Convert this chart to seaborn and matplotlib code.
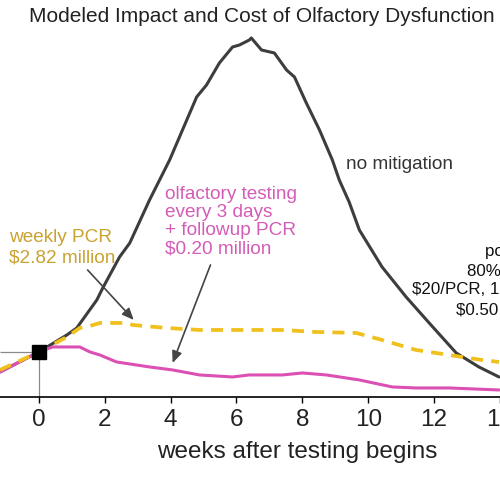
"""
Modeled impact and cost of olfactory dysfunction testing: cases over time
for three strategies (no mitigation, weekly PCR, olfactory testing).
"""
import matplotlib
matplotlib.use("Agg")
import matplotlib.pyplot as plt
import pandas as pd
import seaborn as sns

# Values (arbitrary case units, weeks after testing begins)
nomit_weeks = [-1.18, 0, 0.85, 1.15, 1.76, 1.94, 2.45, 2.76, 3.36, 3.97, 4.36, 4.79, 5.09,
               5.48, 5.88, 6.09, 6.39, 6.45, 6.76, 7.15, 7.52, 7.76, 8.12, 8.52, 8.91, 9.12,
               9.42, 9.73, 10.42, 11.15, 11.85, 12.67, 13.36, 13.97]
nomit_cases = [25, 45, 62, 69, 97, 109, 140, 154, 197, 237, 267, 300, 312,
               334, 350, 352, 357, 359, 347, 344, 327, 320, 294, 267, 237, 217,
               195, 167, 130, 100, 74, 44, 30, 20]

pcr_weeks = [-1.18, 0, 0.85, 1.24, 1.45, 1.85, 2.67, 2.85, 3.88, 4.88, 5.88, 6.39, 7.39,
             8.42, 9.64, 10.42, 11.45, 12.45, 13.45, 13.97]
pcr_cases = [27, 45, 60, 69, 70, 74, 74, 72, 69, 67, 67, 67, 67,
             65, 64, 57, 47, 42, 37, 35]

olf_weeks = [-1.18, 0, 0.42, 1.24, 1.55, 1.85, 2.36, 3.36, 4.06, 4.88, 5.88, 6.39, 7.39,
             8.0, 8.73, 9.73, 10.73, 11.45, 12.45, 13.97]
olf_cases = [25, 45, 50, 50, 45, 42, 35, 30, 27, 22, 20, 22, 22,
             24, 22, 17, 10, 9, 9, 7]

start_week = 0
start_cases = 45

week_ticks = [0, 2, 4, 6, 8, 10, 12, 14]

series_names = ["no mitigation", "olfactory testing", "weekly PCR"]

# Long-form table for seaborn
df = pd.concat([
    pd.DataFrame({"week": nomit_weeks, "cases": nomit_cases, "strategy": series_names[0]}),
    pd.DataFrame({"week": olf_weeks, "cases": olf_cases, "strategy": series_names[1]}),
    pd.DataFrame({"week": pcr_weeks, "cases": pcr_cases, "strategy": series_names[2]}),
], ignore_index=True)

palette = {
    "no mitigation": "#3d3d3d",
    "olfactory testing": "#dc50b4",
    "weekly PCR": "#f0c01c",
}
dashes = {
    "no mitigation": "",
    "olfactory testing": "",
    "weekly PCR": (3.2, 2.2),
}

sns.set_style("white")
plt.rcParams["font.family"] = ["Liberation Sans", "DejaVu Sans"]

fig = plt.figure(figsize=(5, 4.8), dpi=100)
ax = fig.add_axes([0, 0.173, 1, 0.827])

# no mitigation + olfactory (solid) first, dashed PCR on top
for name, lw in zip(series_names, [2.2, 2.2, 2.7]):
    sns.lineplot(
        data=df[df["strategy"] == name], x="week", y="cases",
        color=palette[name], dashes=False, estimator=None, sort=True,
        linewidth=lw, ax=ax, legend=False,
    )
    if dashes[name]:
        ax.lines[-1].set_dashes(dashes[name])

ax.set_xlim(-1.18, 13.97)
ax.set_ylim(0, 397)

# reference lines to the start point + square marker
ax.hlines(start_cases, -1.18, start_week, color="#8a8a8a", lw=0.9, zorder=1)
ax.vlines(start_week, 0, start_cases, color="#8a8a8a", lw=0.9, zorder=1)
ax.plot([start_week], [start_cases], marker="s", ms=10, color="black", zorder=5)

# Axis styling
sns.despine(ax=ax, left=True)
ax.spines["bottom"].set_color("black")
ax.spines["bottom"].set_linewidth(1.2)
ax.set_yticks([])
ax.set_xticks(week_ticks)
ax.tick_params(axis="x", direction="out", length=4, width=1, pad=5,
               labelsize=17.5, colors="black", labelcolor="#222222", bottom=True)
ax.set_ylabel("")
ax.set_xlabel("weeks after testing begins", fontsize=17.5, color="#222222")
ax.xaxis.set_label_coords(0.595, -0.11)

# Annotations
ax.text(9.33, 232, "no mitigation", fontsize=13.7, color="#333333", va="center", ha="left")
ax.text(-0.91, 149, "weekly PCR\n$2.82 million", fontsize=13.7, color="#c9a231",
        va="center", ha="left", linespacing=1.25)
ax.text(3.82, 175.5, "olfactory testing\nevery 3 days\n+ followup PCR\n$0.20 million",
        fontsize=13.7, color="#d45cb6", va="center", ha="left", linespacing=1.1)

# pooled-PCR label, cut off by the right edge as in the original figure
right_lines = ["pooled PCR", "80% sensitivity", "$20/PCR, 10/pool", "$0.50 million"]
right_x = [13.55, 13.0, 11.33, 12.67]
right_y = [145, 125, 107, 87]
for txt, tx, ty in zip(right_lines, right_x, right_y):
    ax.text(tx, ty, txt, fontsize=12.2, color="#111111", va="center", ha="left")

arrow = dict(arrowstyle="-|>,head_length=0.7,head_width=0.3", color="#444444", lw=1.2,
             shrinkA=0, shrinkB=0)
ax.annotate("", xy=(2.88, 77), xytext=(1.48, 127), arrowprops=arrow)
ax.annotate("", xy=(4.06, 34), xytext=(5.21, 132), arrowprops=arrow)

fig.text(262 / 500, 1 - 17 / 480, "Modeled Impact and Cost of Olfactory Dysfunction",
         fontsize=15, color="#222222", ha="center", va="center")

fig.savefig("out.png", dpi=100)
print("Done!")
